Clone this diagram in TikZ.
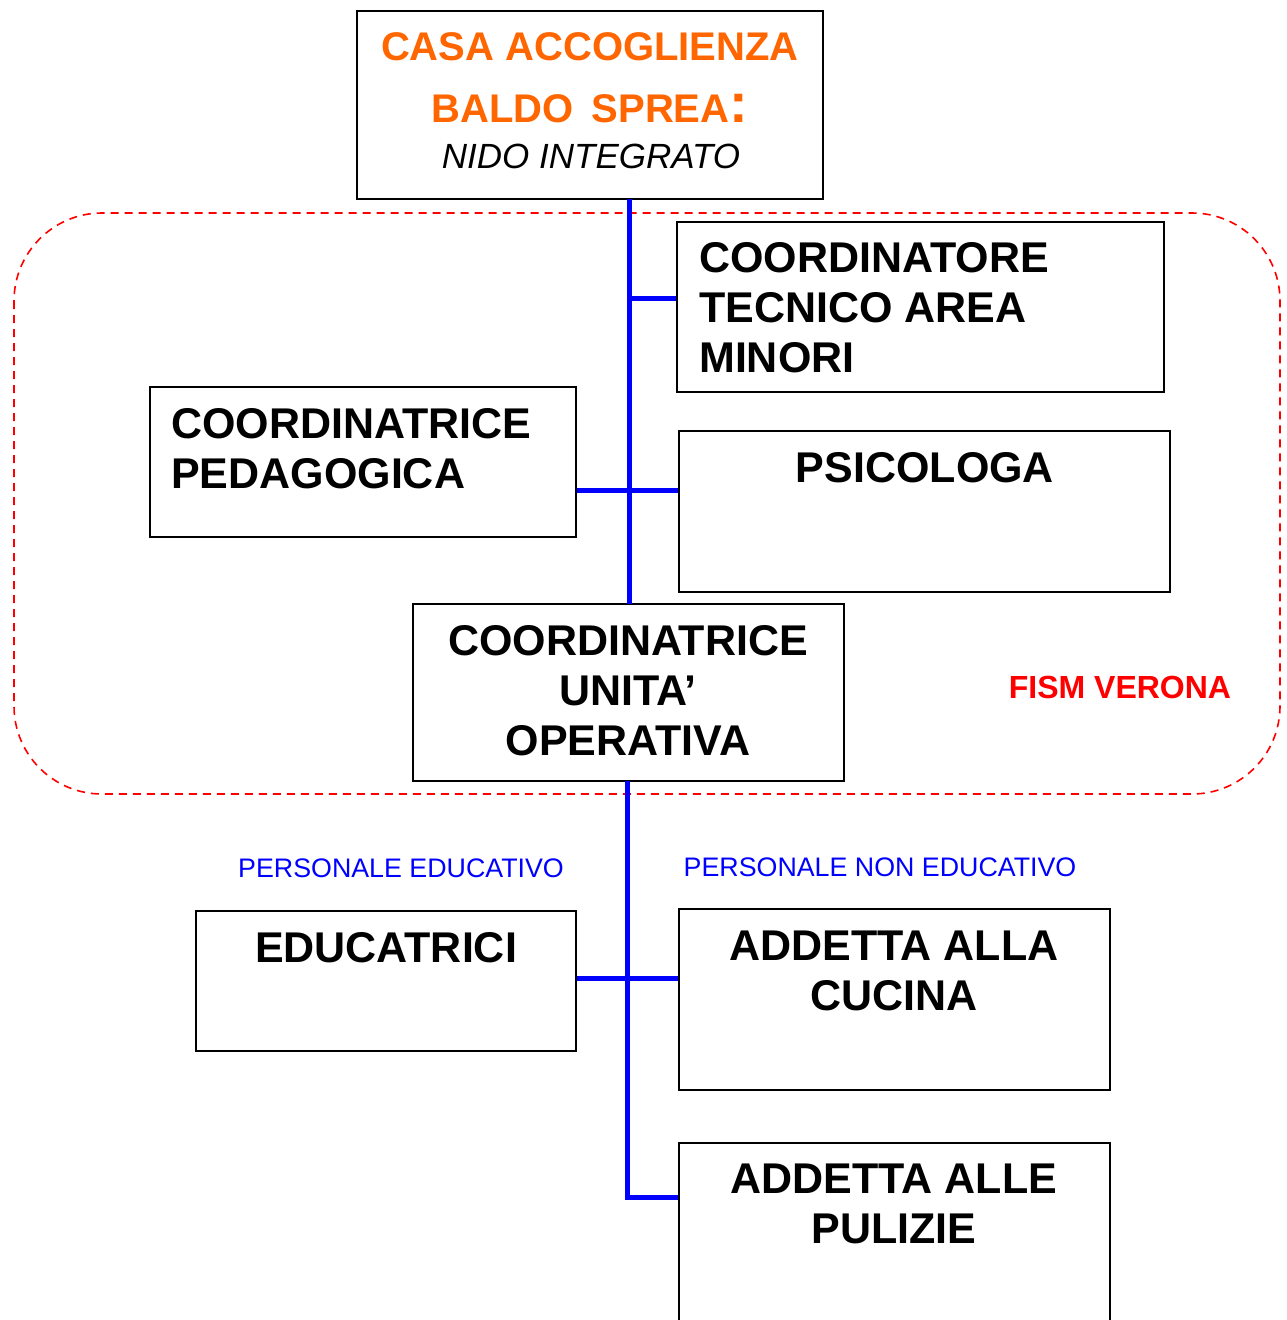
\documentclass[tikz,border=0pt]{standalone}
\usepackage{fontspec}
\setmainfont{Liberation Sans}
\definecolor{orgcol}{HTML}{FF6600}
\definecolor{lineblue}{HTML}{0000FF}
\definecolor{fismred}{HTML}{FF0000}
\begin{document}
\begin{tikzpicture}[x=1pt,y=-1pt,
  box/.style={draw=black, line width=2pt, inner sep=0pt, fill=none},
  bigtxt/.style={font=\fontsize{43}{50}\selectfont\bfseries, inner sep=0pt},
  toptxt/.style={font=\fontsize{40}{48}\selectfont\bfseries, text=orgcol, inner sep=0pt},
  subtxt/.style={font=\fontsize{35}{40}\selectfont\itshape, inner sep=0pt},
  grouptxt/.style={font=\fontsize{26.8}{32}\selectfont, text=lineblue, inner sep=0pt},
  fismtxt/.style={font=\fontsize{32}{36}\selectfont\bfseries, text=fismred, inner sep=0pt},
  link/.style={draw=lineblue, line width=5pt},
  region/.style={draw=fismred, line width=1.6pt, dash pattern=on 8pt off 6pt, rounded corners=88pt}
]
\clip (0,0) rectangle (1287,1320);
\fill[white] (0,0) rectangle (1287,1320);

% dashed FISM region
\draw[region] (14,213) rectangle (1280,794);

% boxes
\node[box, minimum width=466pt, minimum height=188pt] (top) at (590,105) {};
\node[box, minimum width=487pt, minimum height=170pt] (tec) at (920.5,307) {};
\node[box, minimum width=426pt, minimum height=150pt] (ped) at (363,462) {};
\node[box, minimum width=491pt, minimum height=161pt] (psi) at (924.5,511.5) {};
\node[box, minimum width=431pt, minimum height=177pt] (cuo) at (628.5,692.5) {};
\node[box, minimum width=380pt, minimum height=140pt] (edu) at (386,981) {};
\node[box, minimum width=431pt, minimum height=181pt] (cuc) at (894.5,999.5) {};
\node[box, minimum width=431pt, minimum height=260pt] (pul) at (894.5,1273) {};

% junction coordinates
\coordinate (jtop) at (629,199);
\coordinate (jtec) at (629,298);
\coordinate (jmid) at (629,490);
\coordinate (jcuo) at (629,604);
\coordinate (jcuob) at (627,781);
\coordinate (jedu) at (627,978);
\coordinate (jpul) at (627,1197);

% connectors
\draw[link] (jtop) -- (jcuo);
\draw[link] (jtec) -- (tec.west |- jtec);
\draw[link] (ped.east |- jmid) -- (psi.west |- jmid);
\draw[link] (jcuob) -- (jpul) -- (pul.west |- jpul);
\draw[link] (edu.east |- jedu) -- (cuc.west |- jedu);

% top text
\node[toptxt, anchor=base] (t1) at (590,60) {CASA ACCOGLIENZA};
\node[toptxt, anchor=base] (t2) at (590,122) {BALDO\, SPREA{\fontsize{56}{56}\selectfont:}};
\node[subtxt, anchor=base] (t3) at (591,168) {NIDO INTEGRATO};

% coordinatore tecnico
\node[bigtxt, anchor=base west] (c1) at (699,272) {COORDINATORE};
\node[bigtxt, anchor=base west] (c2) at (699,322) {TECNICO AREA};
\node[bigtxt, anchor=base west] (c3) at (699,372) {MINORI};

% coordinatrice pedagogica
\node[bigtxt, anchor=base west] (p1) at (171,438) {COORDINATRICE};
\node[bigtxt, anchor=base west] (p2) at (171,488) {PEDAGOGICA};

% psicologa
\node[bigtxt, anchor=base] (s1) at (925,482) {PSICOLOGA};

% coordinatrice unita operativa
\node[bigtxt, anchor=base] (u1) at (628,655) {COORDINATRICE};
\node[bigtxt, anchor=base] (u2) at (628,705) {UNITA’};
\node[bigtxt, anchor=base] (u3) at (628,755) {OPERATIVA};

% FISM label
\node[fismtxt, anchor=base] (fism) at (1120,698) {FISM VERONA};

% group labels
\node[grouptxt, anchor=base] (ge) at (401,877) {PERSONALE EDUCATIVO};
\node[grouptxt, anchor=base] (gn) at (880,876) {PERSONALE NON EDUCATIVO};

% bottom boxes text
\node[bigtxt, anchor=base] (e1) at (386,962) {EDUCATRICI};
\node[bigtxt, anchor=base] (k1) at (894,960) {ADDETTA ALLA};
\node[bigtxt, anchor=base] (k2) at (894,1010) {CUCINA};
\node[bigtxt, anchor=base] (q1) at (894,1193) {ADDETTA ALLE};
\node[bigtxt, anchor=base] (q2) at (894,1243) {PULIZIE};
\end{tikzpicture}
\end{document}
